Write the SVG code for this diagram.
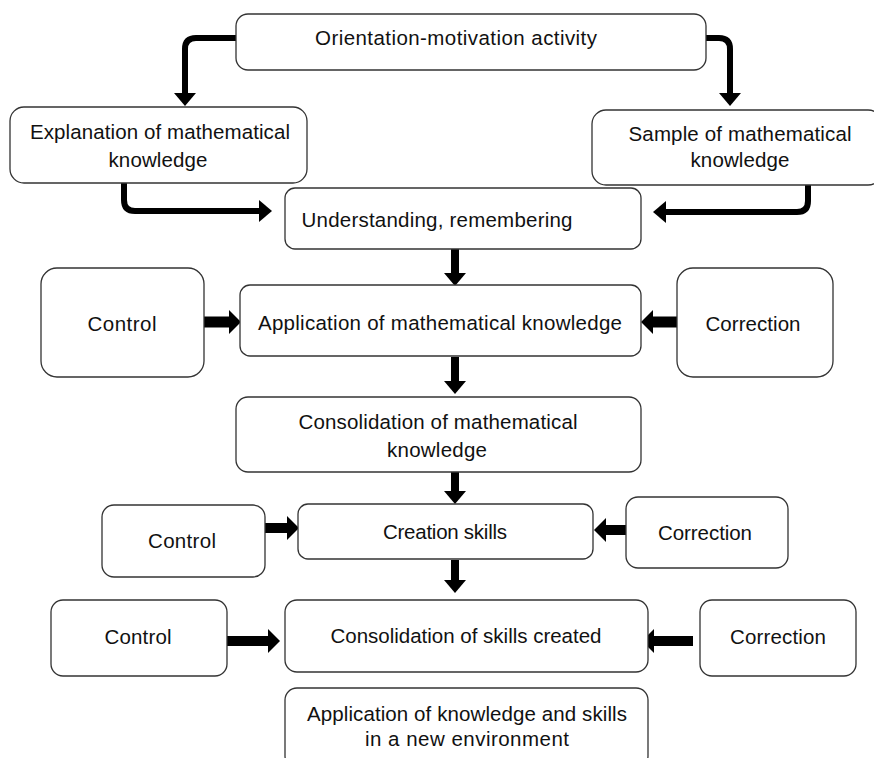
<svg xmlns="http://www.w3.org/2000/svg" width="874" height="758" viewBox="0 0 874 758">
<style>
.box{fill:#fff;stroke:#333;stroke-width:1.3}
text{font-family:"Liberation Sans",Arial,sans-serif;font-size:20.5px;fill:#111;text-anchor:middle}
.sh{fill:none;stroke:#000;stroke-linejoin:round}
</style>
<defs>
<marker id="hv" markerUnits="userSpaceOnUse" markerWidth="14" markerHeight="22" refX="0" refY="11" orient="auto"><path d="M0,0 L13,11 L0,22 z" fill="#000"/></marker>
<marker id="hh" markerUnits="userSpaceOnUse" markerWidth="14" markerHeight="24" refX="0" refY="12" orient="auto"><path d="M0,0 L12,12 L0,24 z" fill="#000"/></marker>
</defs>
<rect width="874" height="758" fill="#fff"/>
<g id="connectors">
<path class="sh" stroke-width="6" d="M236,38 H196 Q185,38 185,49 V93" marker-end="url(#hv)"/>
<path class="sh" stroke-width="6" d="M706,38 H719 Q730,38 730,49 V93" marker-end="url(#hv)"/>
<path class="sh" stroke-width="6" d="M124,183 V200 Q124,211 135,211 H259" marker-end="url(#hv)"/>
<path class="sh" stroke-width="6" d="M808,185 V201 Q808,212 797,212 H666" marker-end="url(#hv)"/>
<path class="sh" stroke-width="8" d="M455,249 V273" marker-end="url(#hv)"/>
<path class="sh" stroke-width="8" d="M455,357 V381" marker-end="url(#hv)"/>
<path class="sh" stroke-width="8" d="M455,472 V491" marker-end="url(#hv)"/>
<path class="sh" stroke-width="8" d="M455,560 V580" marker-end="url(#hv)"/>
<path class="sh" stroke-width="11" d="M204,322 H229" marker-end="url(#hh)"/>
<path class="sh" stroke-width="11" d="M677,322 H653" marker-end="url(#hh)"/>
<path class="sh" stroke-width="10" d="M265,528 H287" marker-end="url(#hh)"/>
<path class="sh" stroke-width="10" d="M626,530 H606" marker-end="url(#hh)"/>
<path class="sh" stroke-width="10" d="M227,641 H268" marker-end="url(#hh)"/>
<path class="sh" stroke-width="10" d="M693,641 H654" marker-end="url(#hh)"/>
</g>
<g id="orientation"><rect class="box" x="236" y="14" width="470" height="56" rx="12"/><text x="456" y="45" textLength="282">Orientation-motivation activity</text></g>
<g id="explanation"><rect class="box" x="10" y="107" width="297" height="76" rx="14"/><text x="160" y="139" textLength="260">Explanation of mathematical</text><text x="158" y="167" textLength="99">knowledge</text></g>
<g id="sample"><rect class="box" x="592" y="110" width="290" height="75" rx="14"/><text x="740" y="141" textLength="223">Sample of mathematical</text><text x="740" y="167" textLength="99">knowledge</text></g>
<g id="understanding"><rect class="box" x="285" y="188" width="356" height="61" rx="10"/><text x="437" y="227" textLength="271">Understanding, remembering</text></g>
<g id="control1"><rect class="box" x="41" y="268" width="163" height="109" rx="16"/><text x="122" y="331" textLength="69">Control</text></g>
<g id="application"><rect class="box" x="240" y="285" width="401" height="71" rx="10"/><text x="440" y="330" textLength="364">Application of mathematical knowledge</text></g>
<g id="correction1"><rect class="box" x="677" y="268" width="156" height="109" rx="16"/><text x="753" y="331" textLength="95">Correction</text></g>
<g id="consolidation-math"><rect class="box" x="236" y="397" width="405" height="75" rx="12"/><text x="438" y="429" textLength="279">Consolidation of mathematical</text><text x="437" y="457" textLength="100">knowledge</text></g>
<g id="control2"><rect class="box" x="102" y="505" width="163" height="72" rx="12"/><text x="182" y="548" textLength="68">Control</text></g>
<g id="creation"><rect class="box" x="298" y="504" width="295" height="55" rx="10"/><text x="445" y="539" textLength="124">Creation skills</text></g>
<g id="correction2"><rect class="box" x="626" y="497" width="162" height="71" rx="12"/><text x="705" y="540" textLength="94">Correction</text></g>
<g id="control3"><rect class="box" x="51" y="600" width="176" height="76" rx="12"/><text x="138" y="644" textLength="67">Control</text></g>
<g id="consolidation-skills"><rect class="box" x="285" y="600" width="363" height="72" rx="12"/><text x="466" y="643" textLength="271">Consolidation of skills created</text></g>
<g id="correction3"><rect class="box" x="700" y="600" width="156" height="76" rx="12"/><text x="778" y="644" textLength="96">Correction</text></g>
<g id="application-new"><rect class="box" x="285" y="688" width="363" height="80" rx="12"/><text x="467" y="721" textLength="320">Application of knowledge and skills</text><text x="467" y="746" textLength="204">in a new environment</text></g>
</svg>
